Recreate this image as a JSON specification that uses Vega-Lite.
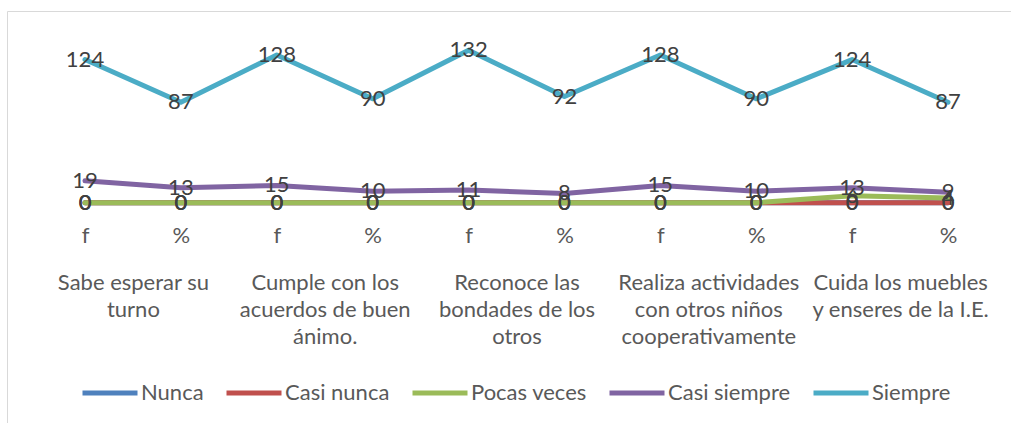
{
  "$schema": "https://vega.github.io/schema/vega-lite/v6.json",
  "width": 1004,
  "height": 412,
  "autosize": {"type": "none"},
  "padding": {"left": 7, "top": 11, "right": 0, "bottom": 0},
  "config": {
    "view": {"stroke": "#d9d9d9", "strokeWidth": 1},
    "font": "Lato"
  },
  "data": {
    "values": [
      {"col": "1-f", "grupo": "Sabe esperar su|turno", "serie": "Nunca", "valor": 0},
      {"col": "1-%", "grupo": "Sabe esperar su|turno", "serie": "Nunca", "valor": 0},
      {"col": "2-f", "grupo": "Cumple con los|acuerdos de buen|ánimo.", "serie": "Nunca", "valor": 0},
      {"col": "2-%", "grupo": "Cumple con los|acuerdos de buen|ánimo.", "serie": "Nunca", "valor": 0},
      {"col": "3-f", "grupo": "Reconoce las|bondades de los|otros", "serie": "Nunca", "valor": 0},
      {"col": "3-%", "grupo": "Reconoce las|bondades de los|otros", "serie": "Nunca", "valor": 0},
      {"col": "4-f", "grupo": "Realiza actividades|con otros niños|cooperativamente", "serie": "Nunca", "valor": 0},
      {"col": "4-%", "grupo": "Realiza actividades|con otros niños|cooperativamente", "serie": "Nunca", "valor": 0},
      {"col": "5-f", "grupo": "Cuida los muebles|y enseres de la I.E.", "serie": "Nunca", "valor": 0},
      {"col": "5-%", "grupo": "Cuida los muebles|y enseres de la I.E.", "serie": "Nunca", "valor": 0},

      {"col": "1-f", "grupo": "Sabe esperar su|turno", "serie": "Casi nunca", "valor": 0},
      {"col": "1-%", "grupo": "Sabe esperar su|turno", "serie": "Casi nunca", "valor": 0},
      {"col": "2-f", "grupo": "Cumple con los|acuerdos de buen|ánimo.", "serie": "Casi nunca", "valor": 0},
      {"col": "2-%", "grupo": "Cumple con los|acuerdos de buen|ánimo.", "serie": "Casi nunca", "valor": 0},
      {"col": "3-f", "grupo": "Reconoce las|bondades de los|otros", "serie": "Casi nunca", "valor": 0},
      {"col": "3-%", "grupo": "Reconoce las|bondades de los|otros", "serie": "Casi nunca", "valor": 0},
      {"col": "4-f", "grupo": "Realiza actividades|con otros niños|cooperativamente", "serie": "Casi nunca", "valor": 0},
      {"col": "4-%", "grupo": "Realiza actividades|con otros niños|cooperativamente", "serie": "Casi nunca", "valor": 0},
      {"col": "5-f", "grupo": "Cuida los muebles|y enseres de la I.E.", "serie": "Casi nunca", "valor": 0},
      {"col": "5-%", "grupo": "Cuida los muebles|y enseres de la I.E.", "serie": "Casi nunca", "valor": 0},

      {"col": "1-f", "grupo": "Sabe esperar su|turno", "serie": "Pocas veces", "valor": 0},
      {"col": "1-%", "grupo": "Sabe esperar su|turno", "serie": "Pocas veces", "valor": 0},
      {"col": "2-f", "grupo": "Cumple con los|acuerdos de buen|ánimo.", "serie": "Pocas veces", "valor": 0},
      {"col": "2-%", "grupo": "Cumple con los|acuerdos de buen|ánimo.", "serie": "Pocas veces", "valor": 0},
      {"col": "3-f", "grupo": "Reconoce las|bondades de los|otros", "serie": "Pocas veces", "valor": 0},
      {"col": "3-%", "grupo": "Reconoce las|bondades de los|otros", "serie": "Pocas veces", "valor": 0},
      {"col": "4-f", "grupo": "Realiza actividades|con otros niños|cooperativamente", "serie": "Pocas veces", "valor": 0},
      {"col": "4-%", "grupo": "Realiza actividades|con otros niños|cooperativamente", "serie": "Pocas veces", "valor": 0},
      {"col": "5-f", "grupo": "Cuida los muebles|y enseres de la I.E.", "serie": "Pocas veces", "valor": 6},
      {"col": "5-%", "grupo": "Cuida los muebles|y enseres de la I.E.", "serie": "Pocas veces", "valor": 4},

      {"col": "1-f", "grupo": "Sabe esperar su|turno", "serie": "Casi siempre", "valor": 19},
      {"col": "1-%", "grupo": "Sabe esperar su|turno", "serie": "Casi siempre", "valor": 13},
      {"col": "2-f", "grupo": "Cumple con los|acuerdos de buen|ánimo.", "serie": "Casi siempre", "valor": 15},
      {"col": "2-%", "grupo": "Cumple con los|acuerdos de buen|ánimo.", "serie": "Casi siempre", "valor": 10},
      {"col": "3-f", "grupo": "Reconoce las|bondades de los|otros", "serie": "Casi siempre", "valor": 11},
      {"col": "3-%", "grupo": "Reconoce las|bondades de los|otros", "serie": "Casi siempre", "valor": 8},
      {"col": "4-f", "grupo": "Realiza actividades|con otros niños|cooperativamente", "serie": "Casi siempre", "valor": 15},
      {"col": "4-%", "grupo": "Realiza actividades|con otros niños|cooperativamente", "serie": "Casi siempre", "valor": 10},
      {"col": "5-f", "grupo": "Cuida los muebles|y enseres de la I.E.", "serie": "Casi siempre", "valor": 13},
      {"col": "5-%", "grupo": "Cuida los muebles|y enseres de la I.E.", "serie": "Casi siempre", "valor": 9},

      {"col": "1-f", "grupo": "Sabe esperar su|turno", "serie": "Siempre", "valor": 124},
      {"col": "1-%", "grupo": "Sabe esperar su|turno", "serie": "Siempre", "valor": 87},
      {"col": "2-f", "grupo": "Cumple con los|acuerdos de buen|ánimo.", "serie": "Siempre", "valor": 128},
      {"col": "2-%", "grupo": "Cumple con los|acuerdos de buen|ánimo.", "serie": "Siempre", "valor": 90},
      {"col": "3-f", "grupo": "Reconoce las|bondades de los|otros", "serie": "Siempre", "valor": 132},
      {"col": "3-%", "grupo": "Reconoce las|bondades de los|otros", "serie": "Siempre", "valor": 92},
      {"col": "4-f", "grupo": "Realiza actividades|con otros niños|cooperativamente", "serie": "Siempre", "valor": 128},
      {"col": "4-%", "grupo": "Realiza actividades|con otros niños|cooperativamente", "serie": "Siempre", "valor": 90},
      {"col": "5-f", "grupo": "Cuida los muebles|y enseres de la I.E.", "serie": "Siempre", "valor": 124},
      {"col": "5-%", "grupo": "Cuida los muebles|y enseres de la I.E.", "serie": "Siempre", "valor": 87}
    ]
  },
  "layer": [
    {
      "encoding": {
        "x": {
          "field": "col",
          "type": "ordinal",
          "sort": null,
          "scale": {"type": "point", "range": [78, 941], "padding": 0},
          "axis": {
            "orient": "bottom",
            "title": null,
            "domain": false,
            "ticks": false,
            "labelAngle": 0,
            "labelPadding": 0,
            "offset": -198,
            "labelFontSize": 22,
            "labelColor": "#595959",
            "labelFont": "Lato",
            "labelExpr": "split(datum.label, '-')[1]"
          }
        },
        "y": {
          "field": "valor",
          "type": "quantitative",
          "scale": {"domain": [0, 140], "range": [191.7, 30.1], "nice": false},
          "axis": null
        }
      },
      "layer": [
        {
          "mark": {"type": "line", "strokeWidth": 5, "strokeCap": "round", "strokeJoin": "round"},
          "encoding": {
            "color": {
              "field": "serie",
              "type": "nominal",
              "sort": ["Nunca", "Casi nunca", "Pocas veces", "Casi siempre", "Siempre"],
              "scale": {
                "domain": ["Nunca", "Casi nunca", "Pocas veces", "Casi siempre", "Siempre"],
                "range": ["#4F81BD", "#C0504D", "#9BBB59", "#8064A2", "#4BACC6"]
              },
              "legend": {
                "orient": "none",
                "legendX": 73,
                "legendY": 352,
                "direction": "horizontal",
                "columns": 5,
                "title": null,
                "symbolType": "stroke",
                "symbolStrokeWidth": 5,
                "symbolSize": 3025,
                "labelFontSize": 22,
                "labelFont": "Lato",
                "labelColor": "#595959",
                "labelOffset": 1,
                "columnPadding": 12,
                "padding": 0,
                "labelLimit": 300
              }
            }
          }
        },
        {
          "mark": {"type": "text", "fontSize": 22, "font": "Lato", "color": "#404040", "baseline": "middle", "align": "center"},
          "encoding": {
            "text": {"field": "valor", "type": "quantitative"}
          }
        }
      ]
    },
    {
      "mark": {"type": "point", "opacity": 0},
      "encoding": {
        "x": {
          "field": "grupo",
          "type": "nominal",
          "sort": null,
          "scale": {"type": "point", "range": [125.9, 893.1], "padding": 0},
          "axis": {
            "orient": "bottom",
            "title": null,
            "domain": false,
            "ticks": false,
            "labelAngle": 0,
            "labelPadding": 0,
            "offset": -151,
            "labelFontSize": 22,
            "labelFont": "Lato",
            "labelColor": "#595959",
            "labelLineHeight": 27,
            "labelLimit": 400,
            "labelOverlap": false,
            "labelExpr": "split(datum.label, '|')"
          }
        }
      }
    }
  ],
  "resolve": {"scale": {"x": "independent"}, "axis": {"x": "independent"}}
}
